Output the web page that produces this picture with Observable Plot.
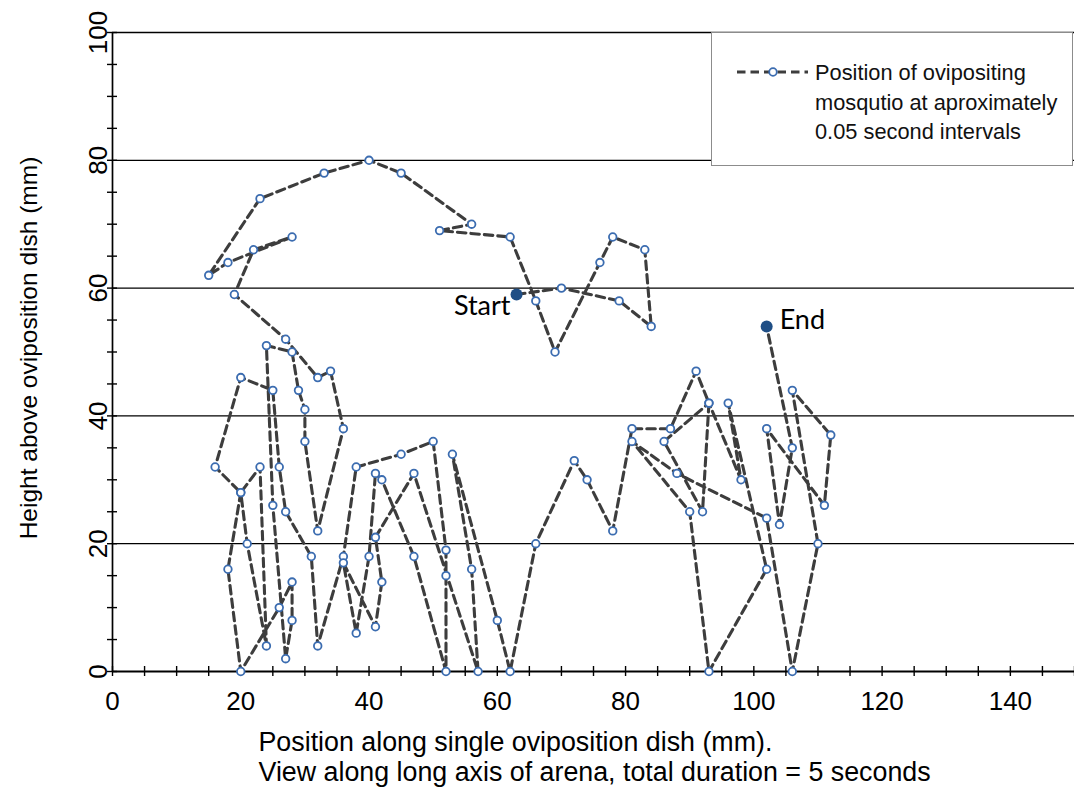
<!DOCTYPE html>
<html><head><meta charset="utf-8">
<script src="https://cdn.jsdelivr.net/npm/d3@7"></script>
<script src="https://cdn.jsdelivr.net/npm/@observablehq/plot@0.6"></script>
<style>
body{margin:0;background:#fff;}
#wrap{position:relative;width:1074px;height:787px;font-family:"Liberation Sans",Arial,sans-serif;}
#legend{position:absolute;left:711px;top:32px;width:362px;height:134px;border:1px solid #8c8c8c;background:#fff;box-sizing:border-box;}
#legend svg{position:absolute;left:0;top:0;}
</style></head><body><div id="wrap"></div>
<script>
// positions (mm) of the mosquito, in time order, Start first and End last
const xs = [63,70,79,84,83,78,76,69,66,62,51,56,45,40,33,23,15,18,28,22,
            19,27,32,34,36,32,30,30,29,28,24,25,27,28,28,26,20,18,20,21,
            24,23,20,16,20,25,26,27,31,32,36,38,45,50,52,52,52,47,42,41,
            40,38,36,41,42,41,47,57,56,53,60,62,66,72,74,78,81,87,91,93,
            92,86,93,98,96,102,93,90,81,88,102,106,110,106,112,111,102,104,106,102];
const ys = [59,60,58,54,66,68,64,50,58,68,69,70,78,80,78,74,62,64,68,66,
            59,52,46,47,38,22,36,41,44,50,51,26,2,8,14,10,0,16,28,20,
            4,32,28,32,46,44,32,25,18,4,18,32,34,36,19,15,0,18,30,31,
            18,6,17,7,14,21,31,0,16,34,8,0,20,33,30,22,38,38,47,42,
            25,36,42,30,42,16,0,25,36,31,24,0,20,44,37,26,38,23,35,54];
const xTickLabels = [0,20,40,60,80,100,120,140];
const yTickLabels = [0,20,40,60,80,100];
const xMinor = d3.range(0,151,5);
const yMinor = d3.range(0,101,5);
const gridLines = [20,40,60,80,100];
const startLabel = "Start", endLabel = "End";
const xTitle = ["Position along single oviposition dish (mm).","View along long axis of arena, total duration = 5 seconds"];
const yTitle = "Height above oviposition dish (mm)";
const legendLines = ["Position of ovipositing","mosqutio at aproximately","0.05 second intervals"];

const pts = xs.map((x,i)=>({x, y: ys[i]}));
const first = pts[0], last = pts[pts.length-1];
const inner = pts.slice(1,-1);

const chart = Plot.plot({
  width:1074, height:787, marginLeft:112, marginRight:0, marginTop:32, marginBottom:116,
  style:{fontFamily:"Liberation Sans, Arial, sans-serif", fontSize:"26px", color:"#000", background:"#fff", overflow:"visible"},
  x:{domain:[0,150]}, y:{domain:[0,100]},
  marks:[
    Plot.ruleY(gridLines, {stroke:"#000", strokeWidth:1.3}),
    Plot.ruleX([0], {stroke:"#000", strokeWidth:1.7}),
    Plot.ruleY([0], {stroke:"#000", strokeWidth:2.2}),
    Plot.axisX({ticks:xMinor, tickSize:10, dy:-5, tickFormat:()=>"", label:null, stroke:"#000", strokeWidth:1.4}),
    Plot.axisY({ticks:yMinor, tickSize:10, dx:5, tickFormat:()=>"", label:null, stroke:"#000", strokeWidth:1.4}),
    Plot.axisX({ticks:xTickLabels, tickSize:0, tickPadding:20, label:null, fontSize:26, fill:"#000"}),
    Plot.axisY({ticks:yTickLabels, tickSize:0, tickPadding:6, tickRotate:-90, label:null, fontSize:26, fill:"#000"}),
    Plot.text([yTitle], {frameAnchor:"left", rotate:-90, dx:-83, dy:-4, textAnchor:"middle", lineAnchor:"middle", fontSize:24.5, fill:"#000"}),
    Plot.text([xTitle.join("\n")], {frameAnchor:"bottom-left", textAnchor:"start", lineAnchor:"top", dx:146, dy:59, lineHeight:1.1, fontSize:26.8, fill:"#000"}),
    Plot.line(pts, {x:"x", y:"y", stroke:"#3d3d3d", strokeWidth:3.1, strokeDasharray:"8.5,5", curve:"linear"}),
    Plot.dot(inner, {x:"x", y:"y", r:3.8, fill:"#fff", stroke:"#3b6cb0", strokeWidth:1.8}),
    Plot.dot([first,last], {x:"x", y:"y", r:6, fill:"#1f4e85", stroke:"none"}),
    Plot.text([first], {x:"x", y:"y", text:()=>startLabel, textAnchor:"end", dx:-6, dy:12, fontFamily:"Lato, Open Sans, sans-serif", fontSize:27, fill:"#000"}),
    Plot.text([last], {x:"x", y:"y", text:()=>endLabel, textAnchor:"start", dx:13, dy:-6, fontFamily:"Lato, Open Sans, sans-serif", fontSize:27, fill:"#000"})
  ]
});
const wrap = document.getElementById("wrap");
wrap.appendChild(chart);

const legend = document.createElement("div");
legend.id = "legend";
const ns = "http://www.w3.org/2000/svg";
const ls = document.createElementNS(ns,"svg");
ls.setAttribute("width","360"); ls.setAttribute("height","132");
const ln = document.createElementNS(ns,"line");
ln.setAttribute("x1","25"); ln.setAttribute("x2","96"); ln.setAttribute("y1","39"); ln.setAttribute("y2","39");
ln.setAttribute("stroke","#3d3d3d"); ln.setAttribute("stroke-width","3.1"); ln.setAttribute("stroke-dasharray","8.5,5");
ls.appendChild(ln);
const c = document.createElementNS(ns,"circle");
c.setAttribute("cx","61"); c.setAttribute("cy","39"); c.setAttribute("r","3.8");
c.setAttribute("fill","#fff"); c.setAttribute("stroke","#3b6cb0"); c.setAttribute("stroke-width","1.8");
ls.appendChild(c);
legendLines.forEach((t,i)=>{
  const tx = document.createElementNS(ns,"text");
  tx.setAttribute("x","103"); tx.setAttribute("y", String(47 + i*29.5));
  tx.setAttribute("font-family","Liberation Sans, Arial, sans-serif");
  tx.setAttribute("font-size","21.8"); tx.setAttribute("fill","#111");
  tx.textContent = t;
  ls.appendChild(tx);
});
legend.appendChild(ls);
wrap.appendChild(legend);
</script></body></html>
